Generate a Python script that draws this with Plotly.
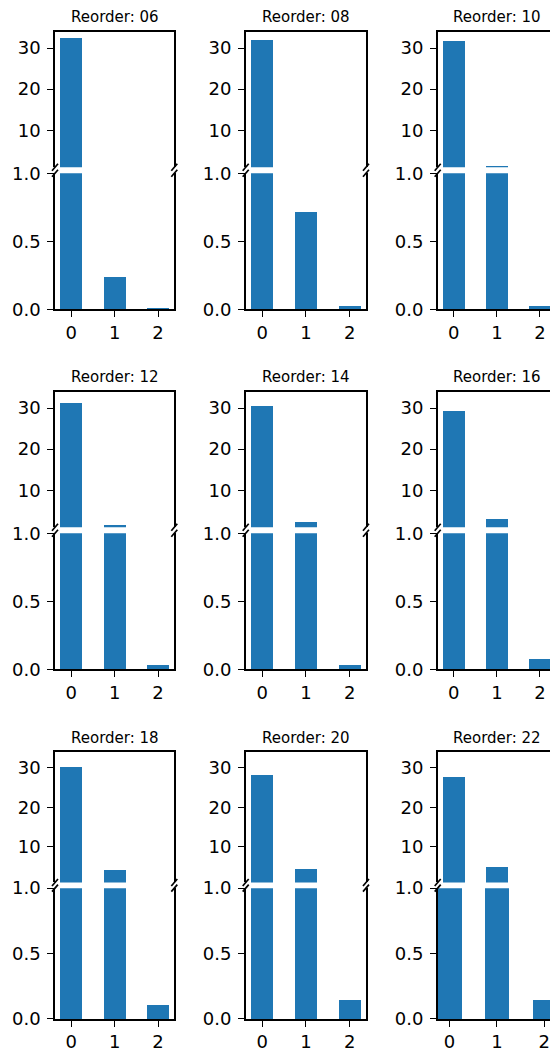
import plotly.graph_objects as go

# ---- data ----
reorders = ["06", "08", "10", "12", "14", "16", "18", "20", "22"]
categories = [0, 1, 2]
class0 = [32.4, 31.95, 31.7, 31.3, 30.57, 29.34, 30.2, 28.2, 27.5]
class1 = [0.235, 0.713, 1.28, 1.55, 2.3, 2.95, 3.95, 4.44, 4.93]
class2 = [0.004, 0.022, 0.022, 0.03, 0.03, 0.074, 0.108, 0.145, 0.145]
top_ticks = [10, 20, 30]
bottom_ticks = [0, 0.5, 1.0]
bottom_ticktext = ["0.0", "0.5", "1.0"]

# ---- layout geometry (pixels, in the 558x1061 page) ----
PAGE_OFF = 8            # default body margin of the html page
W, H = 558 - PAGE_OFF, 1061 - 2 * PAGE_OFF
col_px = [(55.0, 174.3), (245.7, 366.0), (437.7, 556.0)]
row_off = [0.0, 360.0, 720.3]
row_scale = [1.0, 1.0, 0.962]   # last row squeezed so its tick labels stay on the page
TOP_T, TOP_B, BOT_T, BOT_B = 32.0, 167.3, 173.2, 309.2
TITLE_Y = 17.5
TOP_RANGE = [1, 33.9]
BOT_RANGE = [0, 1]
XR_STD = [-0.375, 2.375]
xr_top = [XR_STD] * 9
xr_bot = [XR_STD] * 8 + [[-0.25, 2.25]]

BLUE = "#1f77b4"
FONT = "DejaVu Sans"


def fx(px):
    return (px - PAGE_OFF) / W


def fy(py):
    return 1 - (py - PAGE_OFF) / H


fig = go.Figure()
layout = {}
shapes = []
annotations = []

axis_common = dict(
    showline=True, linecolor="black", linewidth=1.5,
    showgrid=False, zeroline=False, fixedrange=True, automargin=False,
    tickcolor="black", tickwidth=1.4, ticklen=6,
    tickfont=dict(family=FONT, size=18, color="black"),
)

for i, name in enumerate(reorders):
    r, c = divmod(i, 3)
    x0, x1 = col_px[c]
    off = row_off[r]
    s = row_scale[r]

    def ry(rel):
        return off + TOP_T + s * (rel - TOP_T)

    vals = [class0[i], class1[i], class2[i]]
    for part in ("top", "bot"):
        n = 2 * i + 1 if part == "top" else 2 * i + 2
        xa = "x" if n == 1 else f"x{n}"
        ya = "y" if n == 1 else f"y{n}"
        fig.add_trace(go.Bar(
            x=categories, y=vals, width=0.5,
            marker=dict(color=BLUE, line=dict(width=0)),
            xaxis=xa, yaxis=ya, showlegend=False, hoverinfo="skip",
        ))
        xkey = "xaxis" if n == 1 else f"xaxis{n}"
        ykey = "yaxis" if n == 1 else f"yaxis{n}"
        if part == "top":
            ydom = [fy(ry(TOP_B)), fy(ry(TOP_T))]
            layout[xkey] = dict(axis_common, domain=[fx(x0), fx(x1)], anchor=ya,
                                side="top", range=xr_top[i], ticks="",
                                showticklabels=False)
            layout[ykey] = dict(axis_common, domain=ydom, anchor=xa,
                                range=TOP_RANGE, tickvals=top_ticks,
                                ticks="outside", mirror=True,
                                ticklabelstandoff=3)
        else:
            ydom = [max(0.0, fy(ry(BOT_B))), fy(ry(BOT_T))]
            layout[xkey] = dict(axis_common, domain=[fx(x0), fx(x1)], anchor=ya,
                                range=xr_bot[i], tickvals=categories,
                                ticks="outside")
            layout[ykey] = dict(axis_common, domain=ydom, anchor=xa,
                                range=BOT_RANGE, tickvals=bottom_ticks,
                                ticktext=bottom_ticktext,
                                ticks="outside", mirror=True,
                                ticklabelstandoff=3)

    # break marks at the gap between the two axes
    for cx in (x0, x1):
        for cy in (ry(TOP_B), ry(BOT_T)):
            shapes.append(dict(
                type="line", xref="paper", yref="paper",
                x0=fx(cx - 3), y0=fy(cy + 3.5), x1=fx(cx + 3), y1=fy(cy - 3.5),
                line=dict(color="black", width=1.7),
            ))

    annotations.append(dict(
        text=f"Reorder: {name}", xref="paper", yref="paper",
        x=fx((x0 + x1) / 2), y=fy(off + TITLE_Y), xanchor="center", yanchor="middle",
        showarrow=False, font=dict(family=FONT, size=15, color="black"),
    ))

fig.update_layout(
    width=W, height=H,
    margin=dict(l=0, r=0, t=0, b=0, autoexpand=False),
    paper_bgcolor="white", plot_bgcolor="white",
    bargap=0, showlegend=False,
    shapes=shapes, annotations=annotations,
    font=dict(family=FONT, color="black"),
    **layout,
)

fig.write_html("out.html")
